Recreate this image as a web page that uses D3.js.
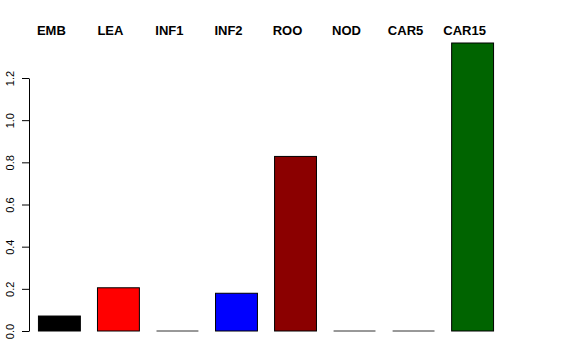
<!DOCTYPE html>
<html>
<head>
<meta charset="utf-8">
<script src="https://cdn.jsdelivr.net/npm/d3@7"></script>
<style>
  body { margin: 0; background: #fff; }
  svg { display: block; font-family: "Liberation Sans", Arial, sans-serif; }
</style>
</head>
<body>
<svg id="chart" width="576" height="360"></svg>
<script>
// datos del gráfico
const categorias = ['EMB', 'LEA', 'INF1', 'INF2', 'ROO', 'NOD', 'CAR5', 'CAR15'];
const valores = [0.071, 0.205, 0, 0.179, 0.828, 0, 0, 1.366];
const colores = ['#000000', '#ff0000', '#000000', '#0000ff', '#8b0000', '#000000', '#000000', '#006400'];
const ticksY = [0, 0.2, 0.4, 0.6, 0.8, 1.0, 1.2];

const svg = d3.select('#chart');

// escalas
const escalaX = d3.scaleBand()
  .domain(categorias)
  .range([29, 503])
  .paddingInner(0.29)
  .paddingOuter(0.16);

const escalaY = d3.scaleLinear()
  .domain([0, 1.2])
  .range([331, 78]);

// barras
svg.selectAll('.barra')
  .data(categorias)
  .enter()
  .append('rect')
  .attr('class', 'barra')
  .attr('x', d => escalaX(d))
  .attr('y', (d, i) => escalaY(valores[i]))
  .attr('width', escalaX.bandwidth())
  .attr('height', (d, i) => escalaY(0) - escalaY(valores[i]))
  .attr('fill', (d, i) => colores[i])
  .attr('stroke', '#000')
  .attr('stroke-width', 1);

// barras de valor cero: solo se ve el borde
svg.selectAll('.cero')
  .data(categorias.filter((d, i) => valores[i] === 0))
  .enter()
  .append('line')
  .attr('class', 'cero')
  .attr('x1', d => escalaX(d))
  .attr('x2', d => escalaX(d) + escalaX.bandwidth())
  .attr('y1', escalaY(0))
  .attr('y2', escalaY(0))
  .attr('stroke', '#333')
  .attr('stroke-width', 1);

// etiquetas superiores
svg.selectAll('.etiqueta')
  .data(categorias)
  .enter()
  .append('text')
  .attr('x', d => escalaX(d) + escalaX.bandwidth() / 2 - 8)
  .attr('y', 35)
  .attr('text-anchor', 'middle')
  .attr('font-weight', 'bold')
  .attr('font-size', '13px')
  .text(d => d);

// eje y
const ejeY = d3.axisLeft(escalaY)
  .tickValues(ticksY)
  .tickFormat(d3.format('.1f'))
  .tickSize(7)
  .tickSizeOuter(0);

const gEje = svg.append('g')
  .attr('transform', 'translate(29,0)')
  .call(ejeY);

gEje.select('.domain').attr('stroke', '#000');
gEje.selectAll('.tick line').attr('stroke', '#000');
gEje.selectAll('.tick text')
  .attr('font-family', '"Liberation Sans", Arial, sans-serif')
  .attr('font-size', '11px')
  .attr('fill', '#000')
  .attr('text-anchor', 'middle')
  .attr('x', 0)
  .attr('dy', 0)
  .attr('transform', 'translate(-15,0) rotate(-90)');
</script>
</body>
</html>
